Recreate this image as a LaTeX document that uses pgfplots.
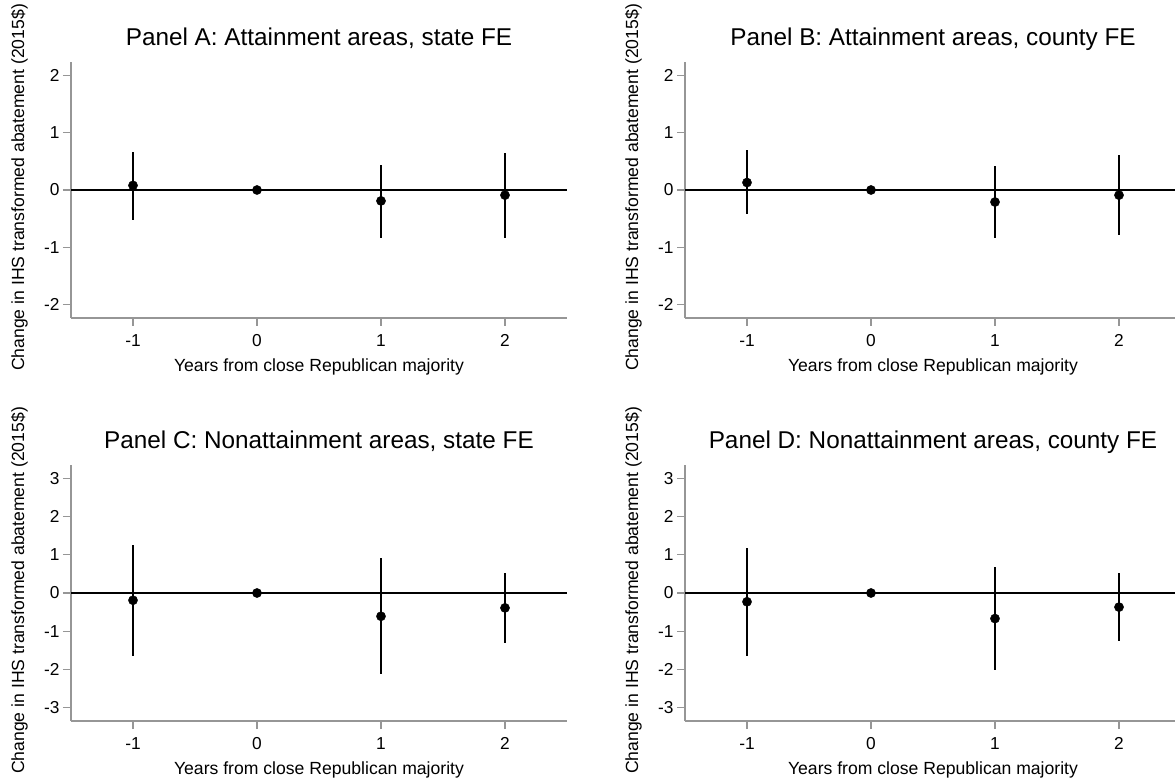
\documentclass[border=0pt]{standalone}
\usepackage{fontspec}
\setmainfont{Liberation Sans}
\usepackage{pgfplots}
\pgfplotsset{compat=1.18}
\usepackage{pgfplotstable}

\definecolor{axisgray}{RGB}{150,150,150}

% Event-study estimates: x = years from close Republican majority,
% y = point estimate, lo/hi = confidence interval bounds
\pgfplotstableread{
x y lo hi
-1 0.08 -0.53 0.67
0 0 0 0
1 -0.19 -0.83 0.44
2 -0.09 -0.83 0.64
}\panelA

\pgfplotstableread{
x y lo hi
-1 0.13 -0.42 0.69
0 0 0 0
1 -0.21 -0.84 0.41
2 -0.09 -0.79 0.61
}\panelB

\pgfplotstableread{
x y lo hi
-1 -0.19 -1.65 1.27
0 0 0 0
1 -0.61 -2.13 0.93
2 -0.39 -1.31 0.52
}\panelC

\pgfplotstableread{
x y lo hi
-1 -0.23 -1.65 1.19
0 0 0 0
1 -0.67 -2.03 0.67
2 -0.37 -1.26 0.52
}\panelD

\pgfplotsset{
  eventstudy/.style={
    scale only axis, width=496pt, height=256pt,
    xmin=-1.5, xmax=2.5,
    axis x line*=bottom, axis y line*=left,
    axis line style={axisgray, line width=1.3pt},
    tick style={axisgray, line width=1.1pt},
    tick align=outside, major tick length=8pt,
    xtick={-1,0,1,2}, xticklabels={-1,0,1,2},
    tick label style={font=\fontsize{17.3}{20}\selectfont, black},
    xticklabel style={yshift=-5pt},
    xlabel={Years from close Republican majority},
    ylabel={Change in IHS transformed abatement (2015\$)},
    label style={font=\fontsize{17.6}{20}\selectfont},
    xlabel style={at={(axis description cs:0.5,-0.208)}, anchor=base},
    ylabel style={at={(axis description cs:-0.1038,0.51)}, anchor=center},
    title style={font=\fontsize{24.3}{28}\selectfont, at={(axis description cs:0.5,1)}, anchor=base, yshift=10pt},
    clip=false,
  },
  smallrange/.style={ymin=-2.233, ymax=2.233, ytick={-2,-1,0,1,2}, yticklabels={-2,-1,0,1,2}},
  largerange/.style={ymin=-3.355, ymax=3.355, ytick={-3,-2,-1,0,1,2,3}, yticklabels={-3,-2,-1,0,1,2,3}},
  zeroline/.style={black, line width=1.8pt, forget plot},
  estimates/.style={black, only marks, mark=*, mark size=4.6pt,
    error bars/.cd, y dir=both, y explicit, error mark=none,
    error bar style={line width=2pt, black}},
}

\newcommand{\estplot}[1]{%
  \addplot[zeroline] coordinates {(-1.5,0) (2.5,0)};
  \addplot[estimates] table[x=x, y=y,
    y error plus expr=\thisrow{hi}-\thisrow{y},
    y error minus expr=\thisrow{y}-\thisrow{lo}] {#1};
}

\begin{document}
\begin{tikzpicture}
\useasboundingbox (0pt,0pt) rectangle (1175pt,782pt);

\begin{axis}[eventstudy, smallrange, at={(71pt,464pt)}, anchor=south west,
  title={Panel A: Attainment areas, state FE}]
\estplot{\panelA}
\end{axis}

\begin{axis}[eventstudy, smallrange, at={(685pt,464pt)}, anchor=south west,
  title={Panel B: Attainment areas, county FE}]
\estplot{\panelB}
\end{axis}

\begin{axis}[eventstudy, largerange, at={(71pt,61pt)}, anchor=south west,
  title={Panel C: Nonattainment areas, state FE}]
\estplot{\panelC}
\end{axis}

\begin{axis}[eventstudy, largerange, at={(685pt,61pt)}, anchor=south west,
  title={Panel D: Nonattainment areas, county FE}]
\estplot{\panelD}
\end{axis}
\end{tikzpicture}
\end{document}
